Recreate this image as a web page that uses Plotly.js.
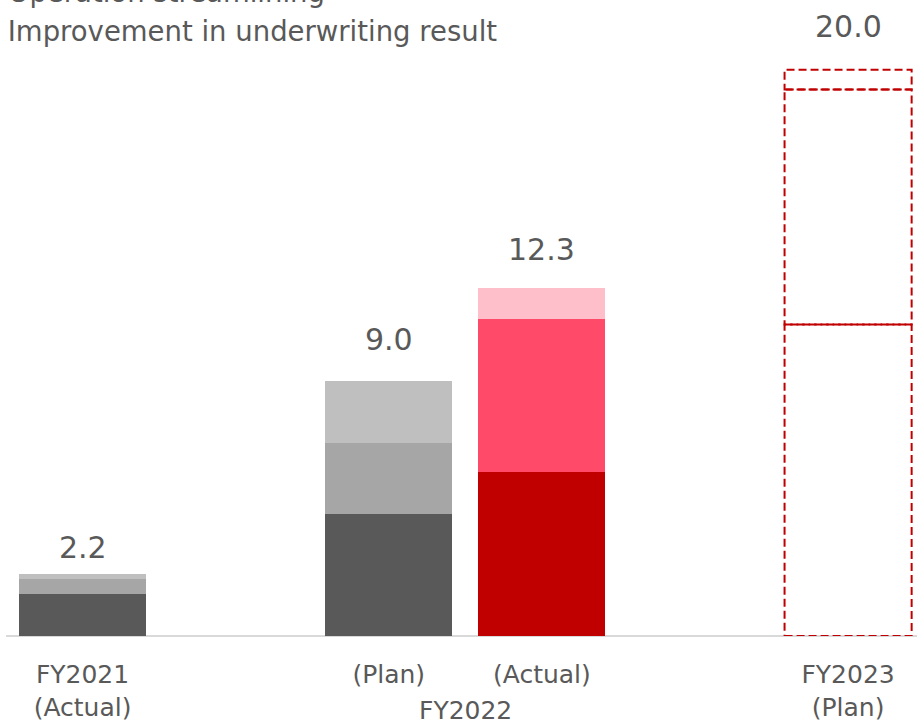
<!DOCTYPE html>
<html>
<head>
<meta charset="utf-8">
<script src="https://cdn.plot.ly/plotly-3.0.1.min.js"></script>
<style>html,body{margin:0;padding:0;background:#fff;}#chart{width:918px;height:722px;}</style>
</head>
<body>
<div id="chart"></div>
<script>
// ---- data ----
const positions = [0, 2, 3, 5];
const tickLabels = ["FY2021<br>(Actual)", "(Plan)", "(Actual)", "FY2023<br>(Plan)"];
const groupLabel = "FY2022";
const seriesNames = ["Improvement in underwriting result", "Operation streamlining", "Other initiatives"];
const bottomValues = [1.5, 4.3, 5.8, 11.0];
const middleValues = [0.5, 2.5, 5.4, 8.3];
const topValues = [0.2, 2.2, 1.1, 0.7];
const totals = [2.2, 9.0, 12.3, 20.0];
const outlinedIndex = 3; // FY2023 plan drawn as dashed outline

// ---- styles ----
const NONE = 'rgba(0,0,0,0)';
const bottomColors = ['#595959', '#595959', '#C00000', NONE];
const middleColors = ['#A6A6A6', '#A6A6A6', '#FF4A6A', NONE];
const topColors = ['#BFBFBF', '#BFBFBF', '#FFBFCA', NONE];
const barWidth = 0.83;
const labelShift = [7, 22, 19, 24];
const FONT = 'DejaVu Sans, Verdana, sans-serif';
const TXT = '#595959';

const series = [bottomValues, middleValues, topValues];
const colors = [bottomColors, middleColors, topColors];
const traces = series.map((vals, k) => ({
  type: 'bar',
  x: positions,
  y: vals,
  name: seriesNames[k],
  width: barWidth,
  marker: {color: colors[k], line: {width: 0}},
  hoverinfo: 'name+y'
}));

// dashed outline shapes for the outlined bar, derived from the data
const shapes = [];
let base = 0;
series.forEach(vals => {
  const v = vals[outlinedIndex];
  shapes.push({
    type: 'rect', xref: 'x', yref: 'y',
    x0: positions[outlinedIndex] - barWidth / 2,
    x1: positions[outlinedIndex] + barWidth / 2,
    y0: base, y1: base + v,
    line: {color: '#C00000', width: 2, dash: '8px,4px'},
    fillcolor: NONE, layer: 'above'
  });
  base += v;
});

const annotations = totals.map((t, i) => ({
  x: positions[i], y: t, xref: 'x', yref: 'y',
  text: t.toFixed(1), showarrow: false,
  yanchor: 'bottom', yshift: labelShift[i],
  font: {family: FONT, size: 30, color: TXT}
}));
annotations.push({
  x: (positions[1] + positions[2]) / 2, y: -0.12, xref: 'x', yref: 'paper',
  text: groupLabel, showarrow: false, yanchor: 'middle',
  font: {family: FONT, size: 25, color: TXT}
});

const layout = {
  width: 918, height: 722,
  margin: {l: 6, r: 1, t: 13, b: 86, autoexpand: false},
  paper_bgcolor: '#fff', plot_bgcolor: '#fff',
  barmode: 'stack',
  showlegend: true,
  legend: {
    x: -0.042, xanchor: 'left', y: 1.136, yanchor: 'top',
    traceorder: 'reversed',
    font: {family: FONT, size: 27.5, color: TXT},
    bgcolor: NONE
  },
  xaxis: {
    range: [-0.5, 5.45],
    tickmode: 'array', tickvals: positions, ticktext: tickLabels,
    showgrid: false, zeroline: false, showline: false, ticks: '',
    ticklabelstandoff: 21,
    tickfont: {family: FONT, size: 25, color: TXT}
  },
  yaxis: {
    range: [0, 22],
    showgrid: false, showticklabels: false, ticks: '',
    zeroline: true, zerolinecolor: '#D9D9D9', zerolinewidth: 2, showline: false
  },
  shapes: shapes,
  annotations: annotations
};

Plotly.newPlot('chart', traces, layout, {displayModeBar: false, staticPlot: true});
</script>
</body>
</html>
